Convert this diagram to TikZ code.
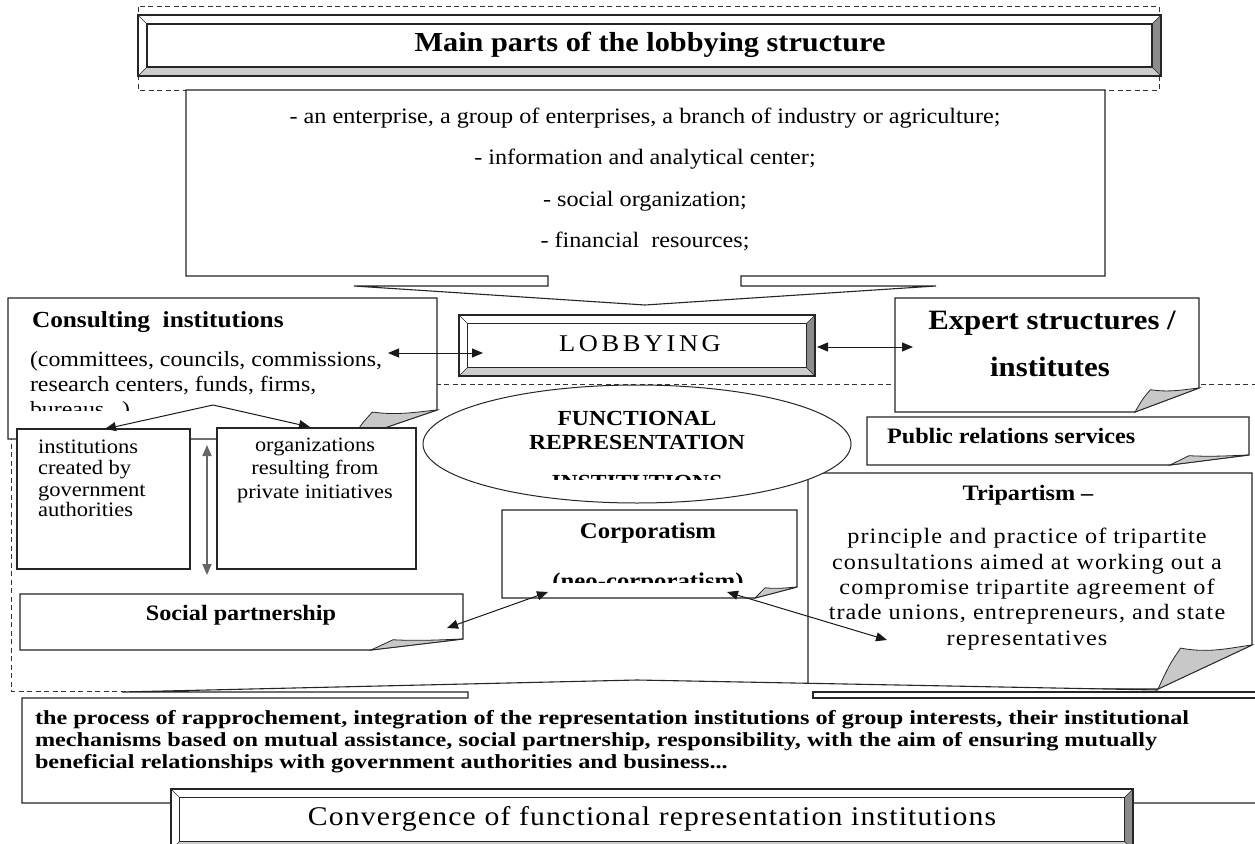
\documentclass[tikz,border=0pt]{standalone}
\usepackage{fontspec}
\setmainfont{Liberation Serif}[FakeStretch=1.1]
\usetikzlibrary{arrows.meta,calc,shapes.geometric}
\definecolor{curlgray}{HTML}{C8C8C8}
\definecolor{bevlight}{HTML}{CDCDCD}
\definecolor{bevdark}{HTML}{8C8C8C}
\newcommand{\fsz}[1]{\fontsize{#1}{#1}\selectfont}
\newcommand{\peelbox}[3]{%
  \fill[white] (#1.north west) -- (#1.north east) -- ($(#1.south east)+(0,-#3)$) -- ($(#1.south east)+(-#2,0)$) -- (#1.south west) -- cycle;
  \draw[ln] (#1.north west) -- (#1.north east) -- ($(#1.south east)+(0,-#3)$) -- ($(#1.south east)+(-#2,0)$) -- (#1.south west) -- cycle;
  \filldraw[ln,line width=0.8pt,fill=curlgray] ($(#1.south east)+(-#2,0)$)
     .. controls ($(#1.south east)+(-0.88*#2,-0.55*#3)$) .. ($(#1.south east)+(-0.76*#2,-0.93*#3)$)
     .. controls ($(#1.south east)+(-0.45*#2,-0.8*#3)$) and ($(#1.south east)+(-0.2*#2,-0.95*#3)$) .. ($(#1.south east)+(0,-#3)$) -- cycle;
}
\newcommand{\bevelbox}[2]{%
  \fill[white] (#1.north west) rectangle (#1.south east);
  \fill[bevlight] (#1.south west) -- (#1.south east) -- ($(#1.south east)+(-#2,-#2)$) -- ($(#1.south west)+(#2,-#2)$) -- cycle;
  \fill[bevdark] (#1.north east) -- (#1.south east) -- ($(#1.south east)+(-#2,-#2)$) -- ($(#1.north east)+(-#2,#2)$) -- cycle;
  \draw[ln] (#1.north west) rectangle (#1.south east);
  \draw[ln] ($(#1.north west)+(#2,#2)$) rectangle ($(#1.south east)+(-#2,-#2)$);
  \draw[ln,line width=0.6pt] (#1.north west) -- ++(#2,#2) (#1.north east) -- ++(-#2,#2) (#1.south west) -- ++(#2,-#2) (#1.south east) -- ++(-#2,-#2);
}
\begin{document}
\begin{tikzpicture}[x=1pt,y=-1pt,
  ln/.style={draw=black!85,line width=1.1pt},
  dsh/.style={draw=black!80,line width=1pt,dash pattern=on 5pt off 3.5pt},
  frame/.style={rectangle,inner sep=0pt,outer sep=0pt,anchor=north west},
  txt/.style={inner sep=0pt,outer sep=0pt,anchor=base},
  txtl/.style={inner sep=0pt,outer sep=0pt,anchor=base west},
  arr/.style={draw=black!90,line width=1pt,{Triangle[length=11pt,width=9pt]}-{Triangle[length=11pt,width=9pt]}},
  arrone/.style={draw=black!90,line width=1pt,-{Triangle[length=11pt,width=9pt]}},
]
\useasboundingbox (0,0) rectangle (1255,843);
\clip (0,0) rectangle (1255,843);
\fill[white] (0,0) rectangle (1255,843);

% ---------- top title
\draw[dsh] (138,7) rectangle (1159,90);
\node[frame,minimum width=1023pt,minimum height=61pt] (main) at (138,15) {};
\bevelbox{main}{9}
\node[txt,font=\bfseries\fsz{27.5}] (maintxt) at (650,52) {Main parts of the lobbying structure};

% ---------- top callout
\node[frame,minimum width=919pt,minimum height=186pt] (parts) at (186,90) {};
\coordinate (tip1) at (645,305);
\filldraw[ln,fill=white] (parts.north west) -- (parts.north east) -- (parts.south east) -- (741,276) -- (741,286) -- (936,286) -- (tip1) -- (354,286) -- (548,286) -- (548,276) -- (parts.south west) -- cycle;
\node[txt,font=\fsz{22}] (p1) at (645,123) {- an enterprise, a group of enterprises, a branch of industry or agriculture;};
\node[txt,font=\fsz{22}] (p2) at (645,164) {- information and analytical center;};
\node[txt,font=\fsz{22}] (p3) at (645,206) {- social organization;};
\node[txt,font=\fsz{22}] (p4) at (645,247) {- financial\ \ resources;};

% ---------- big dashed group
\draw[dsh] (11,384) rectangle (1300,691);

% ---------- consulting institutions
\node[frame,minimum width=429pt,minimum height=141pt] (cons) at (8,298) {};
\peelbox{cons}{85}{29}
\node[txtl,font=\bfseries\fsz{23}] (ctitle) at (32,327) {Consulting\ \ institutions};
\begin{scope}
\clip (8,298) rectangle (437,410);
\node[txtl,font=\fsz{21.7}] (c1) at (30,366) {(committees, councils, commissions,};
\node[txtl,font=\fsz{21.7}] (c2) at (30,391) {research centers, funds, firms,};
\node[txtl,font=\fsz{21.7}] (c3) at (30,416) {bureaus...)};
\end{scope}

\node[frame,minimum width=173pt,minimum height=140pt] (gov) at (17,429) {};
\filldraw[ln,fill=white] (gov.north west) rectangle (gov.south east);
\node[txtl,font=\fsz{20.5}] (g1) at (38,453) {institutions};
\node[txtl,font=\fsz{20.5}] (g2) at (38,474) {created by};
\node[txtl,font=\fsz{20.5}] (g3) at (38,496) {government};
\node[txtl,font=\fsz{20.5}] (g4) at (38,516) {authorities};

\node[frame,minimum width=199pt,minimum height=141pt] (org) at (217,428) {};
\filldraw[ln,fill=white] (org.north west) rectangle (org.south east);
\node[txt,font=\fsz{20.3}] (o1) at (315,451) {organizations};
\node[txt,font=\fsz{20.3}] (o2) at (315,474) {resulting from};
\node[txt,font=\fsz{20.3}] (o3) at (315,498) {private initiatives};

% ---------- social partnership
\node[frame,minimum width=443pt,minimum height=56pt] (soc) at (20,594) {};
\peelbox{soc}{92}{11}
\node[txt,font=\bfseries\fsz{22}] (soctxt) at (241,620) {Social partnership};

% ---------- expert
\node[frame,minimum width=304pt,minimum height=114pt] (exp) at (895,298) {};
\peelbox{exp}{64}{24}
\node[txt,font=\bfseries\fsz{28}] (e1) at (1052,329) {Expert structures /};
\node[txt,font=\bfseries\fsz{28}] (e2) at (1050,376) {institutes};

% ---------- public relations
\node[frame,minimum width=382pt,minimum height=48pt] (pr) at (867,417) {};
\peelbox{pr}{79}{10}
\node[txtl,font=\bfseries\fsz{22}] (prtxt) at (887,443) {Public relations services};

% ---------- tripartism
\node[frame,minimum width=444pt,minimum height=216pt] (tri) at (808,473) {};
\peelbox{tri}{94}{44}
\node[txt,font=\bfseries\fsz{22}] (t0) at (1028,500) {Tripartism –};
\begin{scope}[every node/.append style={font=\fsz{22}\addfontfeatures{LetterSpace=5}}]
\node[txt] (t1) at (1027,543.5) {principle and practice of tripartite};
\node[txt] (t2) at (1027,569.5) {consultations aimed at working out a};
\node[txt] (t3) at (1027,594.5) {compromise tripartite agreement of};
\node[txt] (t4) at (1027,619.5) {trade unions, entrepreneurs, and state};
\node[txt] (t5) at (1027,645.5) {representatives};
\end{scope}

% ---------- ellipse
\node[ellipse,draw=black!85,line width=1pt,fill=white,minimum width=428pt,minimum height=118pt,inner sep=0pt] (ell) at (637,444) {};
\node[txt,font=\bfseries\fsz{21.5}] (f1) at (637,425) {FUNCTIONAL};
\node[txt,font=\bfseries\fsz{21.5}] (f2) at (637,449) {REPRESENTATION};
\begin{scope}
\clip (420,380) rectangle (860,479);
\node[txt,font=\bfseries\fsz{21.5}] (f3) at (637,489) {INSTITUTIONS};
\end{scope}

% ---------- corporatism
\node[frame,minimum width=295pt,minimum height=88pt] (corp) at (502,510) {};
\peelbox{corp}{42}{11}
\node[txt,font=\bfseries\fsz{22.5}] (k1) at (648,538) {Corporatism};
\begin{scope}
\clip (502,510) rectangle (797,582);
\node[txt,font=\bfseries\fsz{22.5}] (k2) at (648,588) {(neo-corporatism)};
\end{scope}

% ---------- lobbying
\node[frame,minimum width=356pt,minimum height=61pt] (lob) at (459,315) {};
\bevelbox{lob}{8.5}
\node[txt,font=\fsz{24}\addfontfeatures{LetterSpace=15}] (lobtxt) at (640,351) {LOBBYING};

% ---------- bottom callout
\node[frame,minimum width=1300pt,minimum height=105pt] (conv) at (22,698) {};
\coordinate (tip2) at (637,680);
\fill[white] (conv.north west) rectangle (conv.south east);
\fill[white] (122,692) -- (tip2) -- (1158,690) -- (1158,692) -- cycle;
\fill[white] (122,692) rectangle (468,698);
\fill[white] (813,692) rectangle (1300,698);
\draw[ln] (conv.south east) -- (conv.south west) -- (conv.north west) -- (468,698) -- (468,692) -- (122,692) -- (tip2) -- (1158,690);
\draw[ln] (1300,698) -- (813,698) -- (813,692) -- (1300,692);
\begin{scope}[every node/.append style={font=\bfseries\fsz{20}\addfontfeatures{FakeStretch=1.21}}]
\node[txtl] (b1) at (35,724) {the process of rapprochement, integration of the representation institutions of group interests, their institutional};
\node[txtl] (b2) at (35,746) {mechanisms based on mutual assistance, social partnership, responsibility, with the aim of ensuring mutually};
\node[txtl] (b3) at (35,768) {beneficial relationships with government authorities and business...};
\end{scope}

\node[frame,minimum width=962pt,minimum height=61pt] (cvb) at (171,789) {};
\bevelbox{cvb}{8.5}
\node[txt,font=\fsz{27}\addfontfeatures{LetterSpace=4.4}] (cvtxt) at (652,825) {Convergence of functional representation institutions};

% ---------- connectors
\coordinate (ca) at (388,353); \coordinate (cb) at (483,353);
\draw[arr] (ca) -- (cb);
\coordinate (la) at (817,347); \coordinate (lb) at (913,347);
\draw[arr] (la) -- (lb);
\coordinate (split) at (213,405);
\coordinate (govin) at (105,429); \coordinate (orgin) at (310,427);
\draw[arrone] (split) -- (govin);
\draw[arrone] (split) -- (orgin);
\coordinate (va) at (207,445); \coordinate (vb) at (207,575);
\draw[draw=black!60,line width=1.8pt,{Triangle[length=11pt,width=9pt]}-{Triangle[length=11pt,width=9pt]}] (va) -- (vb);
\coordinate (sa) at (447,628); \coordinate (sb) at (548,592);
\draw[arr] (sa) -- (sb);
\coordinate (ka) at (727,592); \coordinate (kb) at (887,640);
\draw[arr] (ka) -- (kb);
\end{tikzpicture}
\end{document}
